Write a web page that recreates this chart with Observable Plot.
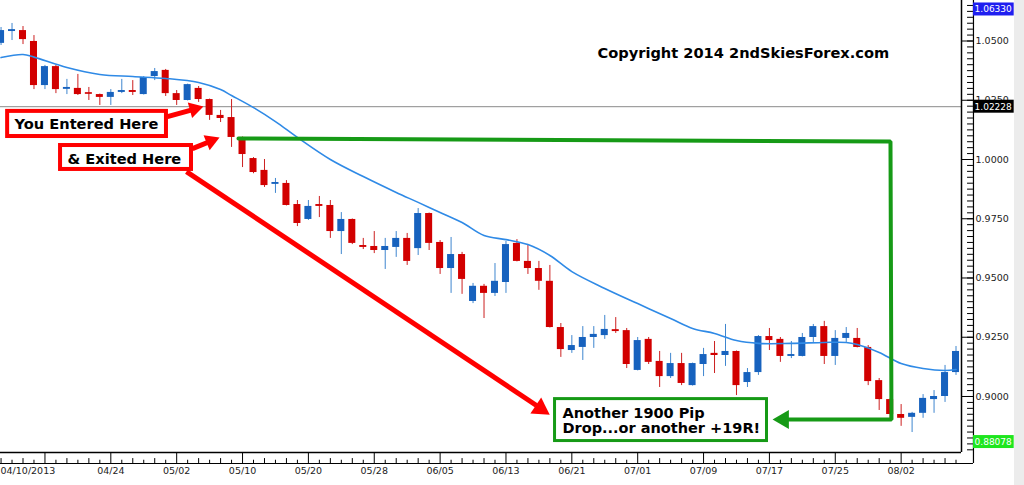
<!DOCTYPE html>
<html><head><meta charset="utf-8">
<script src="https://cdn.jsdelivr.net/npm/d3@7"></script>
<script src="https://cdn.jsdelivr.net/npm/@observablehq/plot@0.6"></script>
<style>
html,body{margin:0;padding:0;width:1024px;height:485px;overflow:hidden;
  background:linear-gradient(to right,#fff 0,#fff 1014px,#ececec 1014px);}
#chart svg{display:block}
</style></head><body><div id="chart"></div>
<script>
// ---- Daily candles, bar index 0 = 04/10/2013 ... 87 = 08/09/2013 ----
const opens = [1.0490,1.0540,1.0544,1.0498,1.0312,1.0392,1.0296,1.0300,1.0282,1.0274,
1.0262,1.0283,1.0291,1.0274,1.0350,1.0376,1.0278,1.0249,1.0300,1.0253,
1.0186,1.0177,1.0093,1.0004,0.9954,0.9895,0.9899,0.9810,0.9747,0.9810,
0.9806,0.9696,0.9747,0.9637,0.9633,0.9616,0.9629,0.9667,0.9624,0.9772,
0.9650,0.9540,0.9599,0.9401,0.9465,0.9435,0.9481,0.9646,0.9570,0.9540,
0.9486,0.9291,0.9194,0.9207,0.9249,0.9257,0.9282,0.9278,0.9110,0.9241,
0.9148,0.9084,0.9139,0.9046,0.9135,0.9182,0.9173,0.9190,0.9059,0.9101,
0.9253,0.9241,0.9169,0.9169,0.9249,0.9295,0.9169,0.9245,0.9245,0.9207,
0.9067,0.8987,0.8924,0.8912,0.8929,0.8987,0.9000,0.9101];
const highs = [1.0557,1.0574,1.0561,1.0523,1.0397,1.0397,1.0338,1.0359,1.0304,1.0276,
1.0295,1.0338,1.0333,1.0350,1.0384,1.0380,1.0291,1.0318,1.0308,1.0255,
1.0207,1.0253,1.0095,1.0008,1.0000,0.9920,0.9911,0.9827,0.9827,0.9844,
0.9827,0.9776,0.9749,0.9667,0.9696,0.9667,0.9696,0.9688,0.9793,0.9774,
0.9658,0.9671,0.9608,0.9477,0.9473,0.9561,0.9654,0.9662,0.9637,0.9570,
0.9553,0.9308,0.9257,0.9295,0.9295,0.9342,0.9333,0.9287,0.9249,0.9249,
0.9190,0.9182,0.9182,0.9141,0.9203,0.9232,0.9304,0.9192,0.9118,0.9257,
0.9287,0.9249,0.9232,0.9266,0.9304,0.9317,0.9278,0.9291,0.9287,0.9215,
0.9076,0.8990,0.8966,0.8933,0.9008,0.9025,0.9131,0.9211];
const lows = [1.0481,1.0502,1.0485,1.0295,1.0295,1.0278,1.0274,1.0270,1.0249,1.0228,
1.0228,1.0278,1.0270,1.0272,1.0333,1.0266,1.0228,1.0247,1.0241,1.0165,
1.0156,1.0051,0.9966,0.9940,0.9882,0.9857,0.9804,0.9717,0.9743,0.9755,
0.9667,0.9599,0.9641,0.9620,0.9603,0.9536,0.9587,0.9553,0.9595,0.9616,
0.9515,0.9435,0.9431,0.9392,0.9329,0.9422,0.9435,0.9568,0.9515,0.9448,
0.9289,0.9165,0.9182,0.9152,0.9203,0.9241,0.9266,0.9118,0.9108,0.9135,
0.9038,0.9076,0.9046,0.9044,0.9084,0.9097,0.9127,0.9004,0.9038,0.9089,
0.9194,0.9144,0.9160,0.9167,0.9228,0.9135,0.9131,0.9228,0.9205,0.9046,
0.8941,0.8903,0.8874,0.8848,0.8908,0.8929,0.8975,0.9089];
const closes = [1.0544,1.0548,1.0506,1.0312,1.0392,1.0295,1.0304,1.0274,1.0275,1.0262,
1.0283,1.0291,1.0283,1.0346,1.0371,1.0278,1.0249,1.0316,1.0253,1.0186,
1.0173,1.0093,1.0021,0.9945,0.9890,0.9903,0.9806,0.9730,0.9802,0.9802,
0.9696,0.9747,0.9646,0.9629,0.9616,0.9633,0.9667,0.9570,0.9772,0.9646,
0.9540,0.9599,0.9494,0.9465,0.9435,0.9486,0.9641,0.9570,0.9540,0.9486,
0.9291,0.9198,0.9215,0.9249,0.9262,0.9283,0.9274,0.9135,0.9236,0.9144,
0.9084,0.9139,0.9055,0.9139,0.9177,0.9173,0.9190,0.9046,0.9101,0.9253,
0.9236,0.9169,0.9177,0.9249,0.9295,0.9169,0.9245,0.9266,0.9207,0.9063,
0.8987,0.8924,0.8908,0.8929,0.8992,0.9000,0.9101,0.9190];

// moving average (read at selected bars)
const maIdx = [0,2,3,6,9,12,15,18,20,21,23,25,27,30,33,36,38,40,42,44,46,48,50,52,55,58,61,63,65,67,69,72,75,77,78,80,82,84,86,87];
const maVal = [1.0430,1.0443,1.0432,1.0388,1.0359,1.0350,1.0342,1.0325,1.0295,1.0270,1.0219,1.0160,1.0093,1.0000,0.9928,0.9861,0.9819,0.9776,0.9734,0.9679,0.9662,0.9641,0.9595,0.9527,0.9456,0.9392,0.9329,0.9287,0.9266,0.9236,0.9224,0.9224,0.9228,0.9228,0.9219,0.9186,0.9139,0.9118,0.9110,0.9114];

// time axis
const firstDate = "04/10/2013";
const dateLabels = ["04/24","05/02","05/10","05/20","05/28","06/05","06/13","06/21","07/01","07/09","07/17","07/25","08/02"];
const dateIdx    = [10,16,22,28,34,40,46,52,58,64,70,76,82];
const majorIdx   = [4,10,16,22,28,34,40,46,52,58,64,70,76,82];

// price axis
const priceLabels = [1.0500,1.0250,1.0000,0.9750,0.9500,0.9250,0.9000];
const tagValues = [1.06330,1.02228,0.88078];
const tagText   = ["1.06330","1.02228","0.88078"];
const tagColors = ["#1f1ff0","#000000","#1ee61e"];
const hLine = 1.02228;

// annotations (data coordinates: bar index, price)
const copyright = "Copyright 2014 2ndSkiesForex.com";
const redBoxes = [{x1:0.6,x2:15.07,y1:1.0203,y2:1.0097},{x1:5.42,x2:17.35,y1:1.0059,y2:0.9958}];
const redTexts = [{x:1.23,y:1.0127,t:"You Entered Here"},{x:6.05,y:0.9983,t:"& Exited Here"}];
const redLinks = [{x1:15.16,y1:1.0181,x2:17.81,y2:1.0215},{x1:17.44,y1:1.0046,x2:19.26,y2:1.0080},{x1:16.89,y1:0.9949,x2:48.78,y2:0.8962}];
const redHeads = [{x:17.62,y:1.0213,r:74.5,s:6},{x:19.12,y:1.0078,r:67.8,s:6},{x:49.14,y:0.8949,r:123.8,s:7.2}];
const greenPath = [{x:21.63,y:1.0089},{x:81.03,y:1.0076},{x:81.12,y:0.8903},{x:71.56,y:0.8903}];
const greenHead = [{x:71.28,y:0.8903,r:270,s:7}];
const greenBox = [{x1:50.47,x2:69.78,y1:0.8989,y2:0.8812}];
const greenText = [{x:51.15,y:0.8844,t:"Another 1900 Pip\nDrop...or another +19R!"}];

const candles = opens.map((o,i)=>({i,o,h:highs[i],l:lows[i],c:closes[i]}));
const up = candles.filter(d=>d.c>=d.o), down = candles.filter(d=>d.c<d.o);
const ma = maIdx.map((i,k)=>({i,v:maVal[k]}));
const RED="#d20000", BLUE="#1762be", WICKB="#3f86cf", WICKR="#cc2020";
const FR=87.5, AX=88.59, MINX=88.05, LBX=88.78, TAGX2=92.3;
const FB=0.87637, AB=0.87173, DB=0.8673;
const AF="DejaVu Sans";
const minorY = d3.range(351,427).map(k=>k*0.0025);
const minorX = d3.range(0,88).filter(i=>!majorIdx.includes(i)).map(i=>({i,len:(i-4)%2===0?0.8738:0.8731}));

const chart = Plot.plot({
  width:1024, height:485,
  marginTop:0, marginLeft:0, marginRight:63, marginBottom:33,
  x:{type:"linear", domain:[-0.05,87.5], axis:null},
  y:{type:"linear", domain:[0.87637,1.06709], axis:null},
  style:{background:"transparent", overflow:"visible"},
  marks:[
    Plot.ruleY([hLine],{x1:-0.05,x2:FR,stroke:"#8a8a8a",strokeWidth:1}),
    // candles
    Plot.ruleX(up,{x:"i",y1:"l",y2:"h",stroke:WICKB,strokeWidth:1,clip:true}),
    Plot.ruleX(down,{x:"i",y1:"l",y2:"h",stroke:WICKR,strokeWidth:1,clip:true}),
    Plot.rect(up,{x1:d=>d.i-0.32,x2:d=>d.i+0.32,y1:"o",y2:"c",fill:BLUE,clip:true}),
    Plot.rect(down,{x1:d=>d.i-0.32,x2:d=>d.i+0.32,y1:"o",y2:"c",fill:RED,clip:true}),
    // moving average
    Plot.line(ma,{x:"i",y:"v",stroke:"#2f8ae6",strokeWidth:1.6,curve:"catmull-rom",clip:true}),
    // frame
    Plot.ruleX([FR],{y1:1.06709,y2:FB,stroke:"#000",strokeWidth:1.5}),
    Plot.ruleY([FB],{x1:-0.05,x2:FR,stroke:"#000",strokeWidth:1.5}),
    // price axis
    Plot.ruleX([AX],{y1:1.06709,y2:AB,stroke:"#000",strokeWidth:1.2}),
    Plot.ruleY(minorY,{x1:MINX,x2:AX,stroke:"#000",strokeWidth:1}),
    Plot.ruleY(priceLabels,{x1:FR,x2:AX,stroke:"#000",strokeWidth:1}),
    Plot.text(priceLabels,{x:LBX,y:d=>d,text:d=>d.toFixed(4),textAnchor:"start",lineAnchor:"middle",fontSize:9.5,fontFamily:AF,fill:"#222"}),
    Plot.rect(tagValues,{x1:AX,x2:TAGX2,y1:d=>d-0.00274,y2:d=>d+0.00274,fill:(d,k)=>tagColors[k]}),
    Plot.text(tagValues,{x:AX+0.1,y:d=>d,text:(d,k)=>tagText[k],textAnchor:"start",lineAnchor:"middle",fontSize:9,fontFamily:AF,fill:"#fff"}),
    // time axis
    Plot.ruleY([AB],{x1:-0.05,x2:AX,stroke:"#000",strokeWidth:1.2}),
    Plot.ruleX(majorIdx,{x:d=>d,y1:FB,y2:AB,stroke:"#000",strokeWidth:1}),
    Plot.ruleX(minorX,{x:"i",y1:AB,y2:"len",stroke:"#000",strokeWidth:1}),
    Plot.text([firstDate],{x:-0.05,y:DB,text:d=>d,textAnchor:"start",lineAnchor:"bottom",fontSize:9.5,fontFamily:AF,fill:"#222"}),
    Plot.text(dateLabels,{x:(d,k)=>dateIdx[k],y:DB,text:d=>d,textAnchor:"middle",lineAnchor:"bottom",fontSize:9.5,fontFamily:AF,fill:"#222"}),
    // copyright
    Plot.text([copyright],{x:54.34,y:1.0430,text:d=>d,textAnchor:"start",lineAnchor:"bottom",fontSize:14.6,fontWeight:"bold",fontFamily:AF,fill:"#000"}),
    // green path + box
    Plot.line(greenPath,{x:"x",y:"y",stroke:"#169a16",strokeWidth:4,strokeLinejoin:"miter",curve:"linear"}),
    Plot.dot(greenHead,{x:"x",y:"y",rotate:"r",r:"s",symbol:"triangle",fill:"#169a16",stroke:"none"}),
    Plot.rect(greenBox,{x1:"x1",x2:"x2",y1:"y1",y2:"y2",fill:"#fff",stroke:"#169a16",strokeWidth:3}),
    Plot.text(greenText,{x:"x",y:"y",text:"t",textAnchor:"start",lineAnchor:"bottom",lineHeight:1.1,fontSize:14.5,fontWeight:"bold",fontFamily:AF,fill:"#000"}),
    // red arrows + boxes
    Plot.link(redLinks,{x1:"x1",y1:"y1",x2:"x2",y2:"y2",stroke:"#ff0000",strokeWidth:5}),
    Plot.dot(redHeads,{x:"x",y:"y",rotate:"r",r:"s",symbol:"triangle",fill:"#ff0000",stroke:"none"}),
    Plot.rect(redBoxes,{x1:"x1",x2:"x2",y1:"y1",y2:"y2",fill:"#fff",stroke:"#ff0000",strokeWidth:4}),
    Plot.text(redTexts,{x:"x",y:"y",text:"t",textAnchor:"start",lineAnchor:"bottom",fontSize:14.6,fontWeight:"bold",fontFamily:AF,fill:"#000"})
  ],
  color:{type:"identity"},
  r:{type:"identity"}
});
document.getElementById("chart").appendChild(chart);
</script></body></html>
